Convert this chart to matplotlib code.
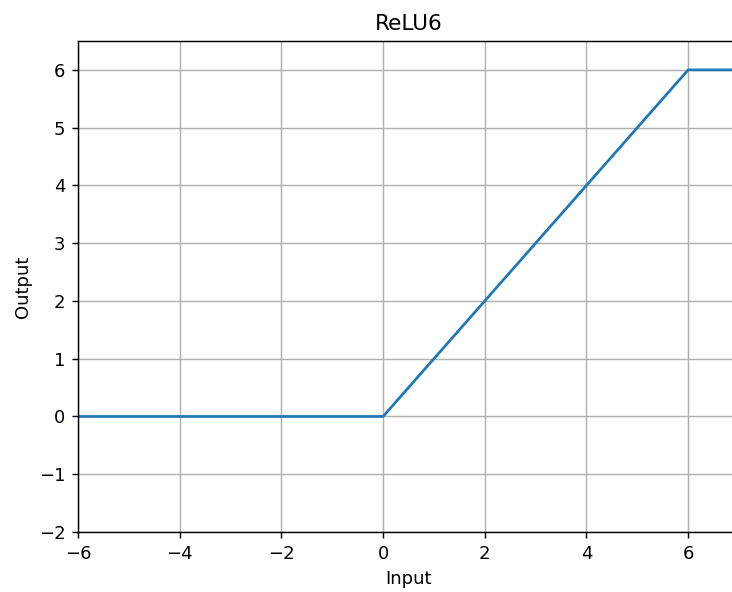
import matplotlib
matplotlib.use("Agg")
import matplotlib.pyplot as plt

# ReLU6 breakpoints
x = [-6, 0, 6, 7]
y = [0, 0, 6, 6]

xticks = [-6, -4, -2, 0, 2, 4, 6]
yticks = [-2, -1, 0, 1, 2, 3, 4, 5, 6]

dpi = 130
fig = plt.figure(figsize=(732 / dpi, 592 / dpi), dpi=dpi)
ax = fig.add_axes([78 / 732, 60 / 592, 661 / 732, 491 / 592])

ax.plot(x, y, color='#1f77b4', linewidth=1.5)
ax.set_xlim(-6, 7)
ax.set_ylim(-2, 6.5)
ax.set_xticks(xticks)
ax.set_yticks(yticks)
ax.grid(True)
ax.set_title("ReLU6")
ax.set_xlabel("Input")
ax.set_ylabel("Output")

fig.savefig("out.png", dpi=dpi)
